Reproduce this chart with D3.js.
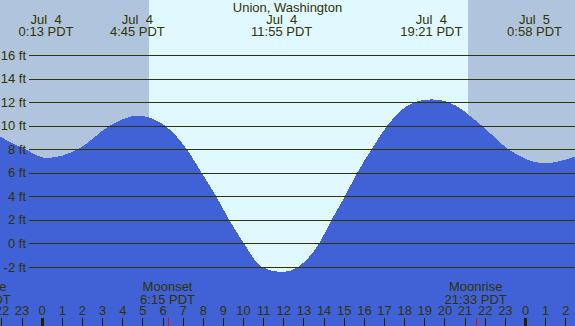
<!DOCTYPE html>
<html>
<head>
<meta charset="utf-8">
<script src="https://cdn.jsdelivr.net/npm/d3@7"></script>
<style>
  body { margin: 0; background: #fff; }
  svg { display: block; font-family: "Liberation Sans", Arial, sans-serif; }
  text { fill: #333300; white-space: pre; }
</style>
</head>
<body>
<div class="plot"></div>
<script>
const width = 575, height = 326;

// tide curve, hours from Jul 4 00:00 and height in feet
const tideHours = [-2.07, -0.83, 0.217, 1.82, 3.39, 4.75, 6.12, 7.20, 7.94, 8.66, 9.31, 10.04, 10.92,
  11.917, 12.74, 13.78, 14.40, 15.06, 15.67, 16.39, 17.16, 18.53, 19.35, 20.19, 21.85, 23.17, 24.967, 26.48];
const tideFeet = [9.06, 8.0, 7.25, 8.0, 10.0, 10.84, 10.0, 8.0, 6.0, 4.0, 2.0, 0, -2,
  -2.45, -2, 0, 2, 4, 6, 8, 10, 12, 12.23, 12, 10, 8, 6.8, 7.36];

// high / low labels
const extremeHours = [0.217, 4.75, 11.917, 19.35, 24.967];
const extremeDates = ["Jul  4", "Jul  4", "Jul  4", "Jul  4", "Jul  5"];
const extremeTimes = ["0:13 PDT", "4:45 PDT", "11:55 PDT", "19:21 PDT", "0:58 PDT"];

// night periods
const nightStart = [-4, 21.17];
const nightEnd = [5.33, 30];

// moon events
const moonHours = [-3.08, 6.25, 21.55];
const moonNames = ["Moonrise", "Moonset", "Moonrise"];
const moonTimes = ["20:55 PDT", "6:15 PDT", "21:33 PDT"];

const feetTicks = [-2, 0, 2, 4, 6, 8, 10, 12, 14, 16];
const hourTicks = d3.range(-2, 27);

const svg = d3.select(".plot")
  .append("svg")
    .attr("width", width)
    .attr("height", height);

const x = d3.scaleLinear().domain([0, 24]).range([41.7, 525]);
const y = d3.scaleLinear().domain([0, 16]).range([243.3, 55]);

// day sky
svg.append("rect")
  .attr("width", width)
  .attr("height", height)
  .attr("fill", "#e0f8ff");

// night sky
svg.selectAll(".night")
  .data(nightStart)
  .enter()
  .append("rect")
    .attr("class", "night")
    .attr("x", d => Math.max(0, x(d)))
    .attr("y", 0)
    .attr("width", (d, i) => Math.min(width, x(nightEnd[i])) - Math.max(0, x(d)))
    .attr("height", height)
    .attr("fill", "#b0c4de");

// water
const tide = tideHours.map((h, i) => [h, tideFeet[i]]);
svg.append("path")
  .datum(tide)
  .attr("fill", "#4161d6")
  .attr("shape-rendering", "crispEdges")
  .attr("d", d3.area()
    .x(d => x(d[0]))
    .y0(height)
    .y1(d => y(d[1]))
    .curve(d3.curveMonotoneX));

// feet grid + labels
const yAxis = svg.append("g")
  .attr("transform", "translate(29,0)")
  .call(d3.axisLeft(y)
    .tickValues(feetTicks)
    .tickSize(-(width - 29))
    .tickPadding(3)
    .tickFormat(d => d + " ft"));
yAxis.select(".domain").remove();
yAxis.selectAll("line")
  .attr("stroke", "#333300")
  .attr("shape-rendering", "crispEdges");
yAxis.selectAll("text")
  .style("font-size", "13px")
  .style("font-family", "inherit")
  .attr("fill", "#333300");

// hour ticks at the bottom
const xAxis = svg.append("g")
  .attr("transform", "translate(0," + height + ")")
  .call(d3.axisTop(x)
    .tickValues(hourTicks)
    .tickSize(8)
    .tickPadding(3)
    .tickFormat(d => ((d % 24) + 24) % 24));
xAxis.select(".domain").remove();
xAxis.selectAll("line")
  .attr("stroke", "#222200")
  .attr("stroke-width", d => (d % 24 === 0 ? 3 : 1))
  .attr("shape-rendering", "crispEdges");
xAxis.selectAll("text")
  .style("font-size", "13px")
  .style("font-family", "inherit")
  .attr("fill", "#333300");

// moon ticks
svg.selectAll(".moon-tick")
  .data(moonHours)
  .enter()
  .append("line")
    .attr("class", "moon-tick")
    .attr("x1", d => Math.round(x(d)) + 0.5)
    .attr("x2", d => Math.round(x(d)) + 0.5)
    .attr("y1", height - 8)
    .attr("y2", height)
    .attr("stroke", "red");

// moon labels
const moon = svg.selectAll(".moon")
  .data(moonHours)
  .enter()
  .append("g")
    .attr("class", "moon")
    .attr("transform", d => "translate(" + x(d) + ",0)");
moon.append("text")
  .attr("y", 291)
  .attr("text-anchor", "middle")
  .style("font-size", "13px")
  .text((d, i) => moonNames[i]);
moon.append("text")
  .attr("y", 304)
  .attr("text-anchor", "middle")
  .style("font-size", "13px")
  .text((d, i) => moonTimes[i]);

// title
svg.append("text")
  .attr("x", width / 2)
  .attr("y", 12)
  .attr("text-anchor", "middle")
  .style("font-size", "13px")
  .text("Union, Washington");

// tide labels, kept inside the right edge
const ext = svg.selectAll(".ext")
  .data(extremeHours)
  .enter()
  .append("g")
    .attr("class", "ext");
ext.append("text")
  .attr("y", 24)
  .attr("text-anchor", "middle")
  .style("font-size", "13px")
  .text((d, i) => extremeDates[i]);
ext.append("text")
  .attr("y", 35.7)
  .attr("text-anchor", "middle")
  .style("font-size", "13px")
  .text((d, i) => extremeTimes[i]);
ext.attr("transform", function(d) {
  const w = d3.select(this).selectAll("text").nodes()
    .reduce((m, n) => Math.max(m, n.getComputedTextLength()), 0);
  const cx = Math.min(x(d), width - 13 - w / 2);
  return "translate(" + cx + ",0)";
});
</script>
</body>
</html>
